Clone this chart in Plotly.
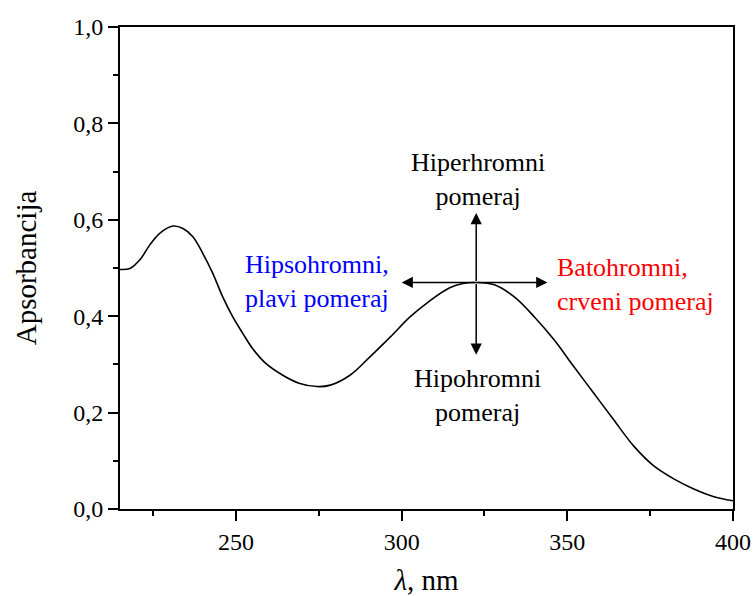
import plotly.graph_objects as go

# Absorption spectrum
wavelength = [215, 218, 221, 224, 227, 231, 234, 237, 240, 243, 246, 249, 252, 255,
              259, 264, 269, 274.5, 278.5, 284.5, 290.5, 296.6, 302.6, 308.5, 314.5,
              318.5, 322.5, 328, 334, 340, 346, 352, 358, 364, 370, 376, 382, 388, 394, 400]
absorbance = [0.497, 0.499, 0.517, 0.548, 0.572, 0.587, 0.582, 0.565, 0.530, 0.489,
              0.440, 0.399, 0.365, 0.333, 0.302, 0.278, 0.261, 0.254, 0.257, 0.278,
              0.316, 0.357, 0.399, 0.432, 0.459, 0.468, 0.470, 0.465, 0.440, 0.399,
              0.351, 0.295, 0.240, 0.185, 0.131, 0.090, 0.063, 0.042, 0.026, 0.017]

x_ticks = [250, 300, 350, 400]
y_ticks = [0.0, 0.2, 0.4, 0.6, 0.8, 1.0]

# Shift diagram (centre at the second maximum)
arrow_center = (322.5, 0.470)
arrow_ends = [(300.0, 0.470), (344.0, 0.470), (322.5, 0.614), (322.5, 0.320)]

labels = [
    dict(text="Hiperhromni<br>pomeraj", x=322.9, y=0.683, color="black", xanchor="center", align="center"),
    dict(text="Hipohromni<br>pomeraj", x=322.9, y=0.236, color="black", xanchor="center", align="center"),
    dict(text="Hipsohromni,<br>plavi pomeraj", x=296.8, y=0.472, color="#0000FF", xanchor="right", align="right"),
    dict(text="Batohromni,<br>crveni pomeraj", x=346.3, y=0.466, color="#FF0000", xanchor="left", align="left"),
]

FONT = "Liberation Serif"

fig = go.Figure()
fig.add_trace(go.Scatter(x=wavelength, y=absorbance, mode="lines",
                         line=dict(color="black", width=1.6, shape="spline", smoothing=1.0),
                         showlegend=False, hoverinfo="skip"))

annotations = []
for (hx, hy) in arrow_ends:
    annotations.append(dict(x=hx, y=hy, ax=arrow_center[0], ay=arrow_center[1],
                            xref="x", yref="y", axref="x", ayref="y", text="",
                            showarrow=True, arrowhead=2, arrowsize=1.5, arrowwidth=1.5,
                            arrowcolor="black", standoff=0, startstandoff=0))
for lab in labels:
    annotations.append(dict(x=lab["x"], y=lab["y"], xref="x", yref="y", text=lab["text"],
                            showarrow=False, xanchor=lab["xanchor"], yanchor="middle",
                            align=lab["align"],
                            font=dict(family=FONT, size=26, color=lab["color"])))

fig.update_layout(
    width=753, height=596,
    margin=dict(l=120, r=20, t=27, b=87, autoexpand=False),
    paper_bgcolor="white", plot_bgcolor="white",
    separators=", ",
    font=dict(family=FONT, color="black"),
    annotations=annotations,
)
fig.update_xaxes(
    range=[215, 400], tickvals=x_ticks, ticktext=[str(v) for v in x_ticks],
    showgrid=False, zeroline=False, automargin=False,
    showline=True, linecolor="black", linewidth=2, mirror=True,
    ticks="outside", ticklen=10, tickwidth=2, tickcolor="black",
    minor=dict(ticks="outside", ticklen=5, tickwidth=2, tickcolor="black", dtick=25, tick0=200),
    tickfont=dict(family=FONT, size=24, color="black"),
    title=dict(text="<i>λ</i>, nm", font=dict(family=FONT, size=29, color="black"), standoff=17),
)
fig.update_yaxes(
    range=[0, 1.0], tickvals=y_ticks, tickformat=".1f",
    showgrid=False, zeroline=False, automargin=False,
    showline=True, linecolor="black", linewidth=2, mirror=True,
    ticks="outside", ticklen=10, tickwidth=2, tickcolor="black",
    minor=dict(ticks="outside", ticklen=5, tickwidth=2, tickcolor="black", dtick=0.1, tick0=0),
    tickfont=dict(family=FONT, size=24, color="black"),
    title=dict(text="Apsorbancija", font=dict(family=FONT, size=29, color="black"), standoff=28),
)

fig.write_html("out.html")
